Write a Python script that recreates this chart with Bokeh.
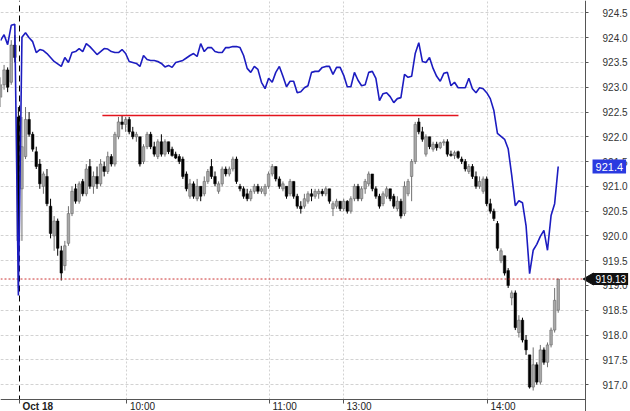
import numpy as np
import pandas as pd
from bokeh.plotting import figure
from bokeh.models import (Range1d, FixedTicker, Label, ColumnDataSource,
                          NumeralTickFormatter, Grid, BoxAnnotation)
from bokeh.embed import file_html
from bokeh.resources import INLINE

# ---- data ----
open_ = [922.80, 923.05, 923.35, 923.10, 923.85, 922.40, 920.95, 921.60, 922.35, 922.05,
         921.70, 921.45, 921.00, 921.20, 920.60, 920.00, 920.30, 919.70, 919.40, 919.85,
         920.45, 920.95, 920.70, 921.10, 920.85, 921.40, 921.00, 921.20, 921.05, 921.40,
         921.30, 921.60, 921.45, 922.00, 922.30, 922.25, 922.35, 922.10, 922.00, 922.00,
         921.50, 921.80, 922.05, 921.80, 921.60, 921.90, 921.65, 921.90, 921.75, 921.65,
         921.60, 921.55, 921.25, 920.80, 921.05, 920.75, 921.00, 920.85, 921.10, 921.40,
         921.20, 920.90, 921.05, 921.35, 921.25, 921.35, 921.55, 921.00, 920.95, 920.85,
         920.75, 920.90, 921.00, 920.90, 920.85, 921.00, 921.25, 921.40, 921.15, 920.95,
         921.00, 920.85, 921.10, 920.80, 920.60, 920.60, 920.70, 920.85, 920.80, 920.85,
         920.90, 920.85, 920.95, 920.55, 920.60, 920.70, 920.55, 920.70, 920.50, 920.75,
         921.00, 920.75, 920.95, 921.05, 921.25, 920.95, 920.80, 920.65, 920.80, 920.95,
         920.80, 920.55, 920.70, 920.45, 920.85, 921.20, 921.50, 922.30, 922.10, 921.65,
         922.00, 921.75, 921.85, 921.78, 921.88, 921.90, 921.65, 921.62, 921.70, 921.55,
         921.50, 921.30, 921.40, 921.20, 921.00, 920.90, 921.15, 920.65, 920.50, 920.25,
         919.50, 919.60, 919.30, 918.75, 918.85, 918.05, 918.30, 917.90, 917.60, 916.95,
         917.40, 917.05, 917.70, 917.45, 917.80, 918.10, 918.50]
high = [923.20, 923.45, 923.40, 923.95, 924.05, 922.60, 922.40, 922.60, 922.50, 922.10,
        921.80, 921.55, 921.30, 921.35, 920.75, 920.40, 920.35, 919.80, 919.90, 920.60,
        921.00, 921.05, 921.10, 921.15, 921.45, 921.55, 921.30, 921.40, 921.55, 921.50,
        921.70, 921.65, 922.10, 922.40, 922.43, 922.40, 922.40, 922.20, 922.10, 922.00,
        921.85, 922.10, 922.10, 921.90, 921.95, 922.05, 921.95, 921.90, 921.80, 921.70,
        921.65, 921.60, 921.30, 921.15, 921.10, 921.15, 921.00, 921.20, 921.35, 921.55,
        921.30, 921.10, 921.40, 921.40, 921.40, 921.60, 921.60, 921.05, 921.00, 920.95,
        920.95, 921.05, 921.05, 921.00, 921.05, 921.30, 921.45, 921.40, 921.20, 921.10,
        921.00, 921.15, 921.10, 920.85, 920.70, 920.85, 920.90, 920.95, 920.95, 920.95,
        920.95, 921.00, 920.95, 920.70, 920.75, 920.70, 920.75, 920.72, 920.80, 921.05,
        921.05, 921.00, 921.15, 921.30, 921.25, 921.00, 920.85, 920.90, 921.00, 920.95,
        920.85, 920.80, 920.75, 921.10, 921.15, 921.55, 922.30, 922.38, 922.20, 922.05,
        922.00, 921.90, 921.90, 921.90, 921.95, 921.95, 921.72, 921.72, 921.72, 921.60,
        921.55, 921.45, 921.45, 921.30, 921.20, 921.20, 921.20, 920.75, 920.55, 920.30,
        919.75, 919.60, 919.35, 918.90, 918.90, 918.40, 918.35, 918.00, 917.60, 917.75,
        917.45, 917.80, 917.75, 917.85, 918.15, 918.95, 919.13]
low = [922.60, 922.95, 922.90, 923.05, 923.50, 918.95, 919.90, 921.55, 922.00, 921.70,
       921.35, 920.95, 920.85, 920.60, 919.95, 919.70, 919.60, 919.10, 919.30, 919.80,
       920.40, 920.65, 920.65, 920.80, 920.80, 920.95, 920.85, 920.95, 921.00, 921.20,
       921.25, 921.40, 921.40, 921.95, 922.15, 922.10, 922.05, 921.95, 921.90, 921.40,
       921.45, 921.75, 921.75, 921.60, 921.55, 921.60, 921.60, 921.65, 921.60, 921.55,
       921.45, 921.15, 920.90, 920.75, 920.75, 920.70, 920.70, 920.80, 921.05, 921.15,
       921.00, 920.85, 921.00, 921.20, 921.20, 921.30, 921.05, 920.90, 920.75, 920.70,
       920.70, 920.85, 920.85, 920.85, 920.80, 920.95, 921.20, 921.10, 920.95, 920.90,
       920.75, 920.80, 920.75, 920.55, 920.45, 920.55, 920.65, 920.70, 920.75, 920.75,
       920.80, 920.80, 920.65, 920.40, 920.55, 920.50, 920.50, 920.45, 920.45, 920.70,
       920.70, 920.70, 920.85, 921.00, 920.90, 920.75, 920.55, 920.60, 920.75, 920.70,
       920.55, 920.50, 920.35, 920.40, 920.80, 920.70, 921.45, 922.05, 921.90, 921.60,
       921.75, 921.70, 921.72, 921.75, 921.82, 921.60, 921.60, 921.55, 921.55, 921.45,
       921.30, 921.25, 921.15, 920.95, 920.95, 920.85, 920.60, 920.45, 920.30, 919.70,
       919.45, 919.20, 918.95, 918.60, 918.10, 917.95, 917.85, 917.60, 916.92, 916.88,
       917.00, 917.00, 917.40, 917.35, 917.75, 918.05, 918.45]
close = [923.05, 923.35, 923.00, 923.85, 923.60, 919.90, 921.80, 922.35, 922.05, 921.75,
         921.40, 921.05, 921.25, 920.65, 920.05, 920.30, 919.75, 919.25, 919.80, 920.45,
         920.90, 920.70, 921.05, 920.85, 921.35, 921.00, 921.20, 921.05, 921.45, 921.30,
         921.60, 921.45, 922.05, 922.30, 922.25, 922.35, 922.10, 922.00, 922.05, 921.45,
         921.80, 922.05, 921.80, 921.65, 921.90, 921.65, 921.90, 921.70, 921.62, 921.57,
         921.50, 921.20, 920.95, 921.05, 920.80, 921.00, 920.80, 921.10, 921.30, 921.20,
         921.05, 921.05, 921.35, 921.25, 921.35, 921.55, 921.10, 920.95, 920.80, 920.75,
         920.90, 921.00, 920.90, 920.95, 921.00, 921.25, 921.40, 921.15, 921.00, 921.05,
         920.80, 921.10, 920.80, 920.60, 920.55, 920.75, 920.85, 920.80, 920.90, 920.90,
         920.85, 920.95, 920.70, 920.65, 920.70, 920.55, 920.70, 920.50, 920.75, 921.00,
         920.75, 920.95, 921.10, 921.25, 920.95, 920.80, 920.60, 920.85, 920.95, 920.75,
         920.60, 920.70, 920.40, 921.00, 921.10, 921.50, 922.25, 922.10, 921.95, 922.00,
         921.80, 921.85, 921.78, 921.88, 921.90, 921.65, 921.62, 921.68, 921.58, 921.50,
         921.35, 921.40, 921.20, 921.00, 921.10, 921.15, 920.65, 920.50, 920.35, 919.75,
         919.70, 919.25, 919.00, 918.85, 918.15, 918.30, 917.90, 917.70, 916.95, 917.40,
         917.05, 917.70, 917.45, 917.80, 918.10, 918.70, 919.13]
blue = [923.94, 924.06, 923.86, 924.25, 924.27, 918.80, 924.01, 924.10, 924.00, 923.92,
        923.70, 923.76, 923.74, 923.68, 923.60, 923.52, 923.47, 923.42, 923.60, 923.50,
        923.70, 923.72, 923.78, 923.72, 923.88, 923.82, 923.74, 923.66, 923.72, 923.78,
        923.77, 923.72, 923.70, 923.70, 923.76, 923.68, 923.52, 923.50, 923.48, 923.42,
        923.64, 923.56, 923.54, 923.54, 923.52, 923.48, 923.41, 923.44, 923.40, 923.50,
        923.52, 923.54, 923.59, 923.64, 923.68, 923.62, 923.88, 923.72, 923.80, 923.80,
        923.72, 923.70, 923.70, 923.80, 923.80, 923.82, 923.82, 923.80, 923.64, 923.38,
        923.30, 923.42, 923.36, 923.10, 922.97, 923.18, 923.10, 923.30, 923.42, 923.22,
        923.01, 923.12, 923.12, 922.89, 922.91, 922.99, 923.03, 923.30, 923.32, 923.32,
        923.40, 923.42, 923.42, 923.26, 923.40, 923.40, 923.24, 923.01, 923.01, 923.30,
        923.14, 923.03, 923.05, 923.30, 923.32, 923.18, 922.73, 922.87, 922.89, 922.81,
        922.69, 922.77, 922.79, 923.26, 923.20, 923.22, 923.68, 923.90, 923.52, 923.50,
        923.60, 923.38, 923.22, 923.12, 923.28, 923.30, 923.03, 923.10, 922.99, 922.99,
        922.99, 923.18, 922.97, 922.89, 922.99, 922.97, 922.89, 922.77, 922.53, 922.07,
        922.01, 921.95, 921.76, 921.22, 920.61, 920.71, 920.67, 920.21, 919.24, 919.71,
        919.83, 919.99, 920.11, 919.71, 920.41, 920.65, 921.40]

y_ticks = [917.0, 917.5, 918.0, 918.5, 919.0, 919.5, 920.0, 920.5,
           921.0, 921.5, 922.0, 922.5, 923.0, 923.5, 924.0, 924.5]
time_labels = ["Oct 18", "10:00", "11:00", "13:00", "14:00"]
time_pos = [5.31, 35.38, 75.24, 95.94, 136.22]   # bar-index positions
session_start = 5.31
level_price = 922.43
level_start, level_end = 28.5, 128.1
last_price = 919.13
blue_last = 921.4

# view window (bar index / price); axes are drawn at fixed locations inside it
x_lo, x_hi, x_axis_at = 0.0, 176.22, 163.64
y_lo, y_hi, y_axis_at = 916.457, 924.75, 916.70
bar_px = 3.575  # pixels per bar index (used only to offset the tag arrow)

# ---- build ----
df = pd.DataFrame(dict(o=open_, h=high, l=low, c=close))
df["i"] = np.arange(len(df))
df["top"] = df[["o", "c"]].max(axis=1)
df["bot"] = df[["o", "c"]].min(axis=1)
df.loc[(df.top - df.bot) < 0.02, "top"] = df.bot + 0.02
up = ColumnDataSource(df[df.c >= df.o])
dn = ColumnDataSource(df[df.c < df.o])

FONT = "Liberation Sans"
p = figure(width=630, height=411, output_backend="svg", toolbar_location=None,
           x_range=Range1d(x_lo, x_hi), y_range=Range1d(y_lo, y_hi),
           y_axis_location="right", min_border_left=0, min_border_top=0,
           min_border_bottom=0, min_border_right=0)
p.outline_line_color = None
p.background_fill_color = "white"
p.border_fill_color = "white"

# grids
p.ygrid.ticker = FixedTicker(ticks=y_ticks)
p.ygrid.grid_line_color = "#d2d2d2"
p.ygrid.grid_line_dash = "3 2"
p.xgrid.ticker = FixedTicker(ticks=time_pos[1:])
p.xgrid.grid_line_color = "#d2d2d2"
p.xgrid.grid_line_dash = "2 2"
p.add_layout(Grid(dimension=0, ticker=FixedTicker(ticks=[session_start]),
                  grid_line_color="black", grid_line_dash="6 4", grid_line_width=1))
# blank margins outside the plotting area (cover grid lines there)
p.add_layout(BoxAnnotation(left=x_axis_at, fill_color="white", fill_alpha=1,
                           line_color=None, level="underlay"))
p.add_layout(BoxAnnotation(top=y_axis_at, fill_color="white", fill_alpha=1,
                           line_color=None, level="underlay"))

# y axis (right, drawn at fixed location)
ya = p.yaxis[0]
ya.fixed_location = x_axis_at
ya.ticker = FixedTicker(ticks=y_ticks)
ya.formatter = NumeralTickFormatter(format="0.0")
ya.major_label_text_font = FONT
ya.major_label_text_font_size = "10px"
ya.major_label_text_color = "#333333"
ya.major_tick_out = 3
ya.major_tick_in = 0
ya.minor_tick_line_color = None
ya.axis_line_color = "#555555"
ya.major_tick_line_color = "#555555"
ya.major_label_standoff = 14

# x axis (bottom, drawn at fixed location); tick marks only, labels below
xa = p.xaxis[0]
xa.fixed_location = y_axis_at
xa.bounds = (x_lo, x_axis_at)
xa.ticker = FixedTicker(ticks=[], minor_ticks=time_pos)
xa.major_tick_line_color = None
xa.minor_tick_out = 4
xa.minor_tick_in = 0
xa.minor_tick_line_color = "#555555"
xa.axis_line_color = "#555555"

# candles
p.segment(x0="i", y0="h", x1="i", y1="l", source=up, line_color="#707070", line_width=1)
p.segment(x0="i", y0="h", x1="i", y1="l", source=dn, line_color="black", line_width=1)
p.vbar(x="i", width=0.72, top="top", bottom="bot", source=up,
       fill_color="#a8a8a8", line_color="#5a5a5a", line_width=0.5)
p.vbar(x="i", width=0.72, top="top", bottom="bot", source=dn,
       fill_color="black", line_color="black", line_width=0.5)

# last-price dotted line
p.segment(x0=[x_lo], y0=[last_price], x1=[x_axis_at], y1=[last_price],
          line_color="#cc3333", line_dash="2 2", line_width=1)

# resistance level
p.segment(x0=[level_start], y0=[level_price], x1=[level_end], y1=[level_price],
          line_color="#e3141e", line_width=1.6)

# blue series
p.line(x=list(range(len(blue))), y=blue, line_color="#1c1cc0", line_width=1.6)

# x tick labels
for lab, pos in zip(time_labels, time_pos):
    p.add_layout(Label(x=pos, y=y_axis_at, x_offset=3, y_offset=-2,
                       text=lab, text_baseline="top", text_align="left",
                       text_font=FONT, text_font_size="10px",
                       text_font_style="bold" if lab == "Oct 18" else "normal",
                       text_color="#222222"))

# value tags on the right
p.scatter(x=[x_axis_at + 4.5 / bar_px], y=[last_price], marker="triangle", size=12,
          angle=np.pi / 2, fill_color="#111111", line_color="#111111")
p.add_layout(Label(x=x_axis_at, y=blue_last, x_offset=7,
                   text=f"{blue_last:.1f}", text_baseline="middle", text_align="left",
                   text_font=FONT, text_font_size="11px", text_color="white",
                   background_fill_color="#2a3ae0", padding=3))
p.add_layout(Label(x=x_axis_at, y=last_price, x_offset=8,
                   text=f"{last_price:.2f}", text_baseline="middle", text_align="left",
                   text_font=FONT, text_font_size="10px", text_color="white",
                   background_fill_color="#111111", padding=2))

open("out.html", "w").write(file_html(p, INLINE))
